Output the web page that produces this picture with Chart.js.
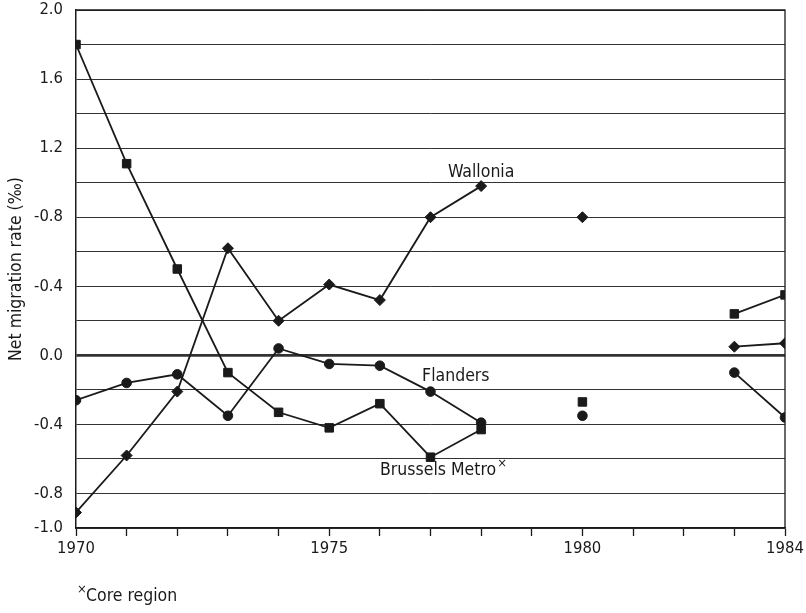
<!DOCTYPE html>
<html>
<head>
<meta charset="utf-8">
<script src="https://cdn.jsdelivr.net/npm/chart.js@4"></script>
<style>
  html, body { margin: 0; padding: 0; background: #fff; }
  #wrap { width: 806px; height: 613px; }
</style>
</head>
<body>
<div id="wrap"><canvas id="migrationChart" width="806" height="613"></canvas></div>
<script>
// years and net migration rates (per mille)
const years = [1970, 1971, 1972, 1973, 1974, 1975, 1976, 1977, 1978, 1979, 1980, 1981, 1982, 1983, 1984];
const brussels = [1.80, 1.11, 0.50, -0.10, -0.33, -0.42, -0.28, -0.59, -0.43, null, -0.27, null, null, 0.24, 0.35];
const wallonia = [-0.91, -0.58, -0.21, 0.62, 0.20, 0.41, 0.32, 0.80, 0.98, null, 0.80, null, null, 0.05, 0.07];
const flanders = [-0.26, -0.16, -0.11, -0.35, 0.04, -0.05, -0.06, -0.21, -0.39, null, -0.35, null, null, -0.10, -0.36];

// axis ticks
const yTickValues = [-1.0, -0.8, -0.6, -0.4, -0.2, 0, 0.2, 0.4, 0.6, 0.8, 1.0, 1.2, 1.4, 1.6, 1.8, 2.0];
const yTickText = ['-1.0', '-0.8', '', '-0.4', '', '0.0', '', '-0.4', '', '-0.8', '', '1.2', '', '1.6', '', '2.0'];
const xTickText = { 1970: '1970', 1975: '1975', 1980: '1980', 1984: '1984' };

const INK = '#1a1a1a';
const FONT = "'DejaVu Sans Condensed', 'DejaVu Sans', sans-serif";
const SIZE = 16.5;
const LABEL_SIZE = 17.5;

function toPoints(values) {
    return years.map((yr, i) => ({ x: yr, y: values[i] }));
}

function series(values, style, radius) {
    return {
        data: toPoints(values),
        borderColor: INK,
        borderWidth: 1.8,
        pointStyle: style,
        pointRadius: radius,
        pointBackgroundColor: INK,
        pointBorderColor: INK,
        pointBorderWidth: 1,
        spanGaps: false,
        tension: 0
    };
}

// series names written next to the lines (data coordinates)
const seriesLabels = [
    { text: 'Wallonia', x: 1978.0, y: 1.06 },
    { text: 'Flanders', x: 1977.5, y: -0.12 },
    { text: 'Brussels Metro', x: 1977.15, y: -0.665, mark: true }
];

// keep the plot box fixed: no extra room for edge labels
function noEdgePadding(s) {
    s.paddingTop = 0;
    s.paddingBottom = 0;
    s.paddingLeft = 0;
    s.paddingRight = 0;
}

const annotate = {
    id: 'annotate',
    afterDatasetsDraw(chart) {
        const { ctx, chartArea: a, scales: { x, y } } = chart;
        ctx.save();

        // frame: top and right edges
        ctx.strokeStyle = INK;
        ctx.lineWidth = 1.3;
        ctx.beginPath();
        ctx.moveTo(a.left, a.top);
        ctx.lineTo(a.right, a.top);
        ctx.lineTo(a.right, a.bottom);
        ctx.stroke();

        ctx.fillStyle = INK;
        ctx.font = LABEL_SIZE + 'px ' + FONT;
        ctx.textAlign = 'center';
        ctx.textBaseline = 'middle';
        seriesLabels.forEach(l => {
            const px = x.getPixelForValue(l.x);
            const py = y.getPixelForValue(l.y);
            ctx.fillText(l.text, px, py);
            if (l.mark) {
                const w = ctx.measureText(l.text).width;
                ctx.font = '13px ' + FONT;
                ctx.textAlign = 'left';
                ctx.fillText('×', px + w / 2 + 1, py - 7);
                ctx.font = LABEL_SIZE + 'px ' + FONT;
                ctx.textAlign = 'center';
            }
        });

        // footnote
        ctx.textAlign = 'left';
        ctx.font = '13px ' + FONT;
        ctx.fillText('×', 77, 590);
        ctx.font = LABEL_SIZE + 'px ' + FONT;
        ctx.fillText('Core region', 86, 596);
        ctx.restore();
    }
};

new Chart(document.getElementById('migrationChart'), {
    type: 'line',
    data: {
        datasets: [
            series(brussels, 'rect', 6),
            series(wallonia, 'rectRot', 5.5),
            series(flanders, 'circle', 4.8)
        ]
    },
    options: {
        responsive: false,
        animation: false,
        layout: { padding: { top: 10, right: 21, left: 0, bottom: 0 } },
        plugins: {
            legend: { display: false },
            tooltip: { enabled: false }
        },
        scales: {
            x: {
                type: 'linear',
                min: 1970,
                max: 1984,
                afterFit: s => { s.height = 85; noEdgePadding(s); },
                afterBuildTicks: s => { s.ticks = years.map(v => ({ value: v })); },
                border: { color: INK, width: 1.5 },
                grid: {
                    drawOnChartArea: false,
                    drawTicks: true,
                    tickLength: 8,
                    tickWidth: 1.3,
                    tickColor: INK
                },
                ticks: {
                    autoSkip: false,
                    maxRotation: 0,
                    padding: 3,
                    color: INK,
                    font: { family: FONT, size: SIZE },
                    callback: v => xTickText[v] || ''
                }
            },
            y: {
                min: -1.0,
                max: 2.0,
                afterFit: s => { s.width = 76; noEdgePadding(s); },
                afterBuildTicks: s => { s.ticks = yTickValues.map(v => ({ value: v })); },
                border: { color: INK, width: 1.5 },
                grid: {
                    drawTicks: false,
                    color: '#333',
                    lineWidth: c => (c.tick && c.tick.value === 0 ? 2.8 : 1)
                },
                ticks: {
                    padding: 13,
                    color: INK,
                    font: { family: FONT, size: SIZE },
                    callback: (v, i) => yTickText[i]
                },
                title: {
                    display: true,
                    text: 'Net migration rate (‰)',
                    color: INK,
                    font: { family: FONT, size: LABEL_SIZE },
                    padding: { top: 6, bottom: 4 }
                }
            }
        }
    },
    plugins: [annotate]
});
</script>
</body>
</html>
